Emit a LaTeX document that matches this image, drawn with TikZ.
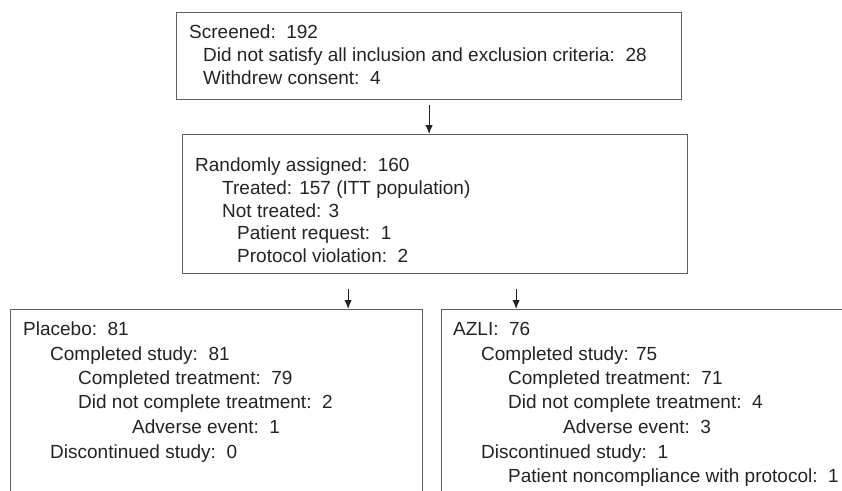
\documentclass[tikz,border=0pt]{standalone}
\usepackage{fontspec}
\setmainfont{Liberation Sans}
\usetikzlibrary{positioning,arrows.meta}
\definecolor{boxgray}{RGB}{95,95,95}
\definecolor{inkgray}{RGB}{35,35,35}
\tikzset{
box/.style={rectangle,draw=boxgray,line width=1.2pt,inner sep=0pt,anchor=north west},
txt/.style={anchor=base west,inner sep=0pt,text=inkgray,font=\fontsize{19}{23}\selectfont},
arr/.style={-{Latex[length=9pt,width=7.5pt]},line width=1.1pt,draw=inkgray},
}

\begin{document}
\begin{tikzpicture}[x=1pt,y=-1pt]
\useasboundingbox (0,0) rectangle (842,490);
\clip (0,0) rectangle (842,490);

% boxes
\node[box,minimum width=505pt,minimum height=87pt] (screen) at (176,12) {};
\node[box,minimum width=505pt,minimum height=139pt] (rand) at (182,134) {};
\node[box,minimum width=412pt,minimum height=200pt] (plac) at (10,309) {};
\node[box,minimum width=412pt,minimum height=200pt] (azli) at (441,309) {};

% screened
\node[txt] (s0) at (189,38) {Screened:\ \ 192};
\node[txt] (s1) at (203,61) {Did not satisfy all inclusion and exclusion criteria:\ \ 28};
\node[txt] (s2) at (203,84) {Withdrew consent:\ \ 4};

% randomly assigned
\node[txt] (r0) at (195,171) {Randomly assigned:\ \ 160};
\node[txt] (r1) at (222,194) {Treated: 157 (ITT population)};
\node[txt] (r2) at (222,217) {Not treated: 3};
\node[txt] (r3) at (237,239) {Patient request:\ \ 1};
\node[txt] (r4) at (237,262) {Protocol violation:\ \ 2};

% placebo
\node[txt] (p0) at (23,335) {Placebo:\ \ 81};
\node[txt] (p1) at (50,360) {Completed study:\ \ 81};
\node[txt] (p2) at (78,384) {Completed treatment:\ \ 79};
\node[txt] (p3) at (78,408) {Did not complete treatment:\ \ 2};
\node[txt] (p4) at (132,433) {Adverse event:\ \ 1};
\node[txt] (p5) at (50,458) {Discontinued study:\ \ 0};

% azli
\node[txt] (a0) at (453,335) {AZLI:\ \ 76};
\node[txt] (a1) at (481,360) {Completed study: 75};
\node[txt] (a2) at (508,384) {Completed treatment:\ \ 71};
\node[txt] (a3) at (508,408) {Did not complete treatment:\ \ 4};
\node[txt] (a4) at (563,433) {Adverse event:\ \ 3};
\node[txt] (a5) at (481,458) {Discontinued study:\ \ 1};
\node[txt] (a6) at (508,482) {Patient noncompliance with protocol:\ \ 1};

% arrows
\draw[arr] ([yshift=-5pt]screen.south) -- (screen.south |- rand.north);
\draw[arr] ([xshift=-87pt,yshift=-15pt]rand.south) -- ([xshift=-87pt]rand.south |- plac.north);
\draw[arr] ([xshift=81pt,yshift=-15pt]rand.south) -- ([xshift=81pt]rand.south |- azli.north);
\end{tikzpicture}
\end{document}
